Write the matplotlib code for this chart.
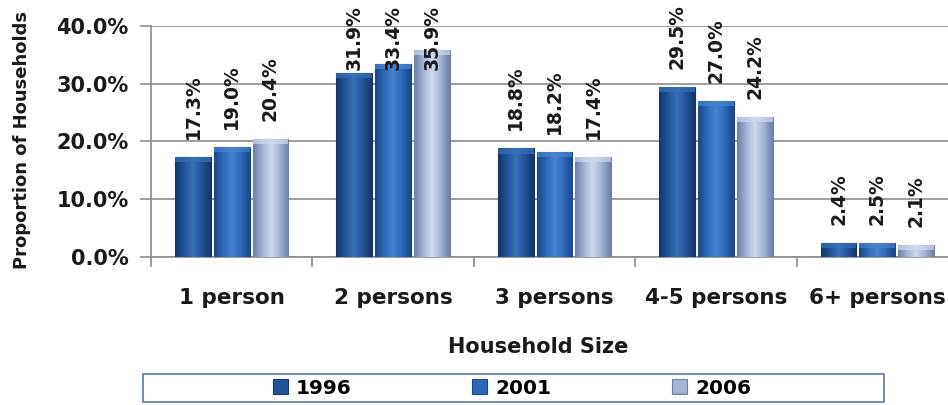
import numpy as np
import matplotlib
matplotlib.use("Agg")
import matplotlib.pyplot as plt
from matplotlib.patches import Rectangle
from matplotlib.colors import LinearSegmentedColormap

categories = ["1 person", "2 persons", "3 persons", "4-5 persons", "6+ persons"]
years = ["1996", "2001", "2006"]
v1996 = [17.3, 31.9, 18.8, 29.5, 2.4]
v2001 = [19.0, 33.4, 18.2, 27.0, 2.5]
v2006 = [20.4, 35.9, 17.4, 24.2, 2.1]
series = [v1996, v2001, v2006]
yticks = [0, 10, 20, 30, 40]

base_cols = ["#20549a", "#2b68b8", "#a3b3d3"]
edge_cols = ["#143769", "#1b4888", "#6f80a6"]
light_cols = ["#3670b8", "#4683d0", "#cfd9ec"]

plt.rcParams['font.family'] = ['DejaVu Sans']
fig = plt.figure(figsize=(9.48, 4.05), dpi=100)
ax = fig.add_axes([151/948, 1-257/405, (958-151)/948, (257-26)/405])

x = np.arange(len(categories))
bw = 0.222
step = 0.24
for i, vals in enumerate(series):
    bars = ax.bar(x + (i-1)*step, vals, width=bw, color=base_cols[i],
                  edgecolor=edge_cols[i], linewidth=0.8, zorder=3, label=years[i])
    cmap = LinearSegmentedColormap.from_list(
        "g%d" % i, [edge_cols[i], base_cols[i], light_cols[i], base_cols[i], edge_cols[i]])
    grad = np.linspace(0, 1, 64).reshape(1, -1)
    for b in bars:
        bx, by = b.get_x(), b.get_y()
        bwid, bh = b.get_width(), b.get_height()
        im = ax.imshow(grad, extent=(bx, bx+bwid, by, by+bh), aspect='auto',
                       cmap=cmap, zorder=3.5, origin='lower')
        im.set_clip_path(b)
        ax.add_patch(Rectangle((bx, by+bh-min(bh, 0.9)), bwid, min(bh, 0.9),
                               facecolor=light_cols[i], edgecolor='none', alpha=0.7, zorder=3.6))
    for b, v in zip(bars, vals):
        cx = b.get_x() + b.get_width()/2
        if v > 31:
            ax.annotate(f"{v:.1f}%", xy=(cx, 1.0), xycoords=('data', 'axes fraction'),
                        xytext=(0, 21), textcoords='offset pixels', rotation=90,
                        ha='center', va='top', fontsize=13.5, fontweight='bold',
                        color='#1a1a1a', zorder=5, annotation_clip=False)
        else:
            ax.annotate(f"{v:.1f}%", xy=(cx, v), xytext=(0, 18), textcoords='offset pixels',
                        rotation=90, ha='center', va='bottom', fontsize=13.5,
                        fontweight='bold', color='#1a1a1a', zorder=5, annotation_clip=False)

ax.set_ylim(0, 40)
ax.set_xlim(-0.5, len(categories)-0.5)
ax.set_yticks(yticks)
ax.set_yticklabels([f"{t:.1f}%" for t in yticks], fontsize=15, fontweight='bold', color='#1a1a1a')
ax.yaxis.grid(True, color='#8c8c8c', linewidth=1.2, zorder=0)
ax.set_axisbelow(True)
ax.set_xticks(x)
ax.set_xticklabels(categories, fontsize=15.5, fontweight='bold', color='#1a1a1a')
ax.set_xticks(np.arange(len(categories)+1) - 0.5, minor=True)
ax.tick_params(axis='x', which='major', length=0, pad=22)
ax.tick_params(axis='x', which='minor', length=7, width=1.2, color='#8c8c8c', direction='out')
ax.tick_params(axis='y', length=8, width=1.2, color='#8c8c8c', pad=8)
for s in ['top', 'right']:
    ax.spines[s].set_visible(False)
for s in ['left', 'bottom']:
    ax.spines[s].set_color('#8c8c8c')
    ax.spines[s].set_linewidth(1.2)

fig.text(22/948, 1-140/405, "Proportion of Households", rotation=90, ha='center', va='center',
         fontsize=13, fontweight='bold', color='#1a1a1a')
fig.text(538/948, 1-347/405, "Household Size", ha='center', va='center',
         fontsize=15, fontweight='bold', color='#1a1a1a')

fig.patches.append(Rectangle((143/948, 1-402/405), (884-143)/948, 28/405,
                             transform=fig.transFigure, facecolor='white',
                             edgecolor='#5a7bab', linewidth=1.2))
handles, labels = ax.get_legend_handles_labels()
leg = fig.legend(handles, labels, loc='center', bbox_to_anchor=(512/948, 1-388/405),
                 ncol=3, frameon=False, handlelength=0.75, handleheight=0.75,
                 handletextpad=0.4, columnspacing=6.0, prop={'weight': 'bold', 'size': 14.5})

fig.savefig("out.png", dpi=100)
